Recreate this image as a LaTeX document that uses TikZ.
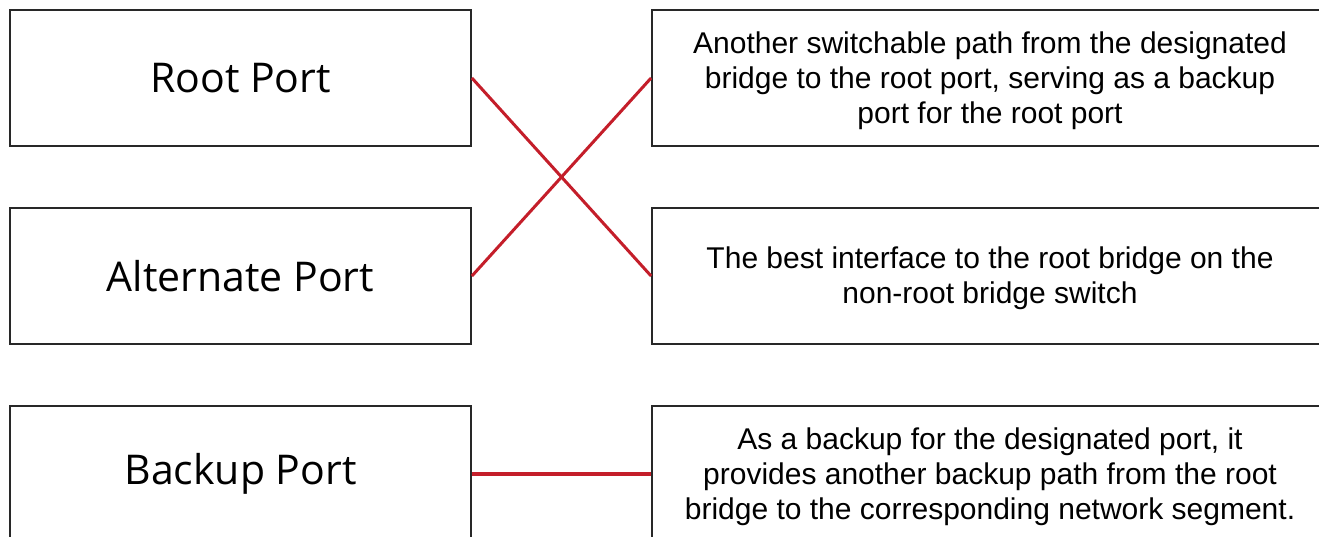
\documentclass[tikz,border=0pt]{standalone}
\usepackage{fontspec}
\setmainfont{Liberation Sans}
\newfontfamily\labelfont{Open Sans}
\definecolor{linkred}{RGB}{196,30,42}
\definecolor{boxline}{RGB}{40,40,40}
\begin{document}
\begin{tikzpicture}[x=1pt,y=-1pt,
  portbox/.style={draw=boxline, line width=1.8pt, minimum width=461pt,
    minimum height=136pt, inner sep=0pt,
    font=\labelfont\fontsize{41}{49}\selectfont},
  descbox/.style={draw=boxline, line width=1.8pt, minimum width=676pt,
    minimum height=136pt, inner sep=0pt},
  desctext/.style={align=center, inner sep=0pt,
    font=\fontsize{30}{35}\selectfont},
  link/.style={draw=linkred, line width=3pt},
  flatlink/.style={draw=linkred, line width=4pt}]
\useasboundingbox (0,0) rectangle (1319,537);
\clip (0,0) rectangle (1319,537);

% port roles (left column)
\node[portbox] (root) at (240.5,78)  {Root Port};
\node[portbox] (alt)  at (240.5,276) {Alternate Port};
\node[portbox] (bak)  at (240.5,474) {Backup Port};

% description frames (right column)
\node[descbox] (dalt)  at (990,78)  {};
\node[descbox] (droot) at (990,276) {};
\node[descbox] (dbak)  at (990,474) {};

% description texts, set a little below the frame centres
\node[desctext] (talt)  at ([yshift=-2.5pt]dalt.center)
  {Another switchable path from the designated\\bridge to the root port, serving as a backup\\port for the root port};
\node[desctext] (troot) at ([yshift=-2.5pt]droot.center)
  {The best interface to the root bridge on the\\non-root bridge switch};
\node[desctext] (tbak)  at ([yshift=-2.5pt]dbak.center)
  {As a backup for the designated port, it\\provides another backup path from the root\\bridge to the corresponding network segment.};

% matching lines
\draw[link] (root.east) -- (droot.west);
\draw[link] (alt.east)  -- (dalt.west);
\draw[flatlink] (bak.east) -- (dbak.west);
\end{tikzpicture}
\end{document}
